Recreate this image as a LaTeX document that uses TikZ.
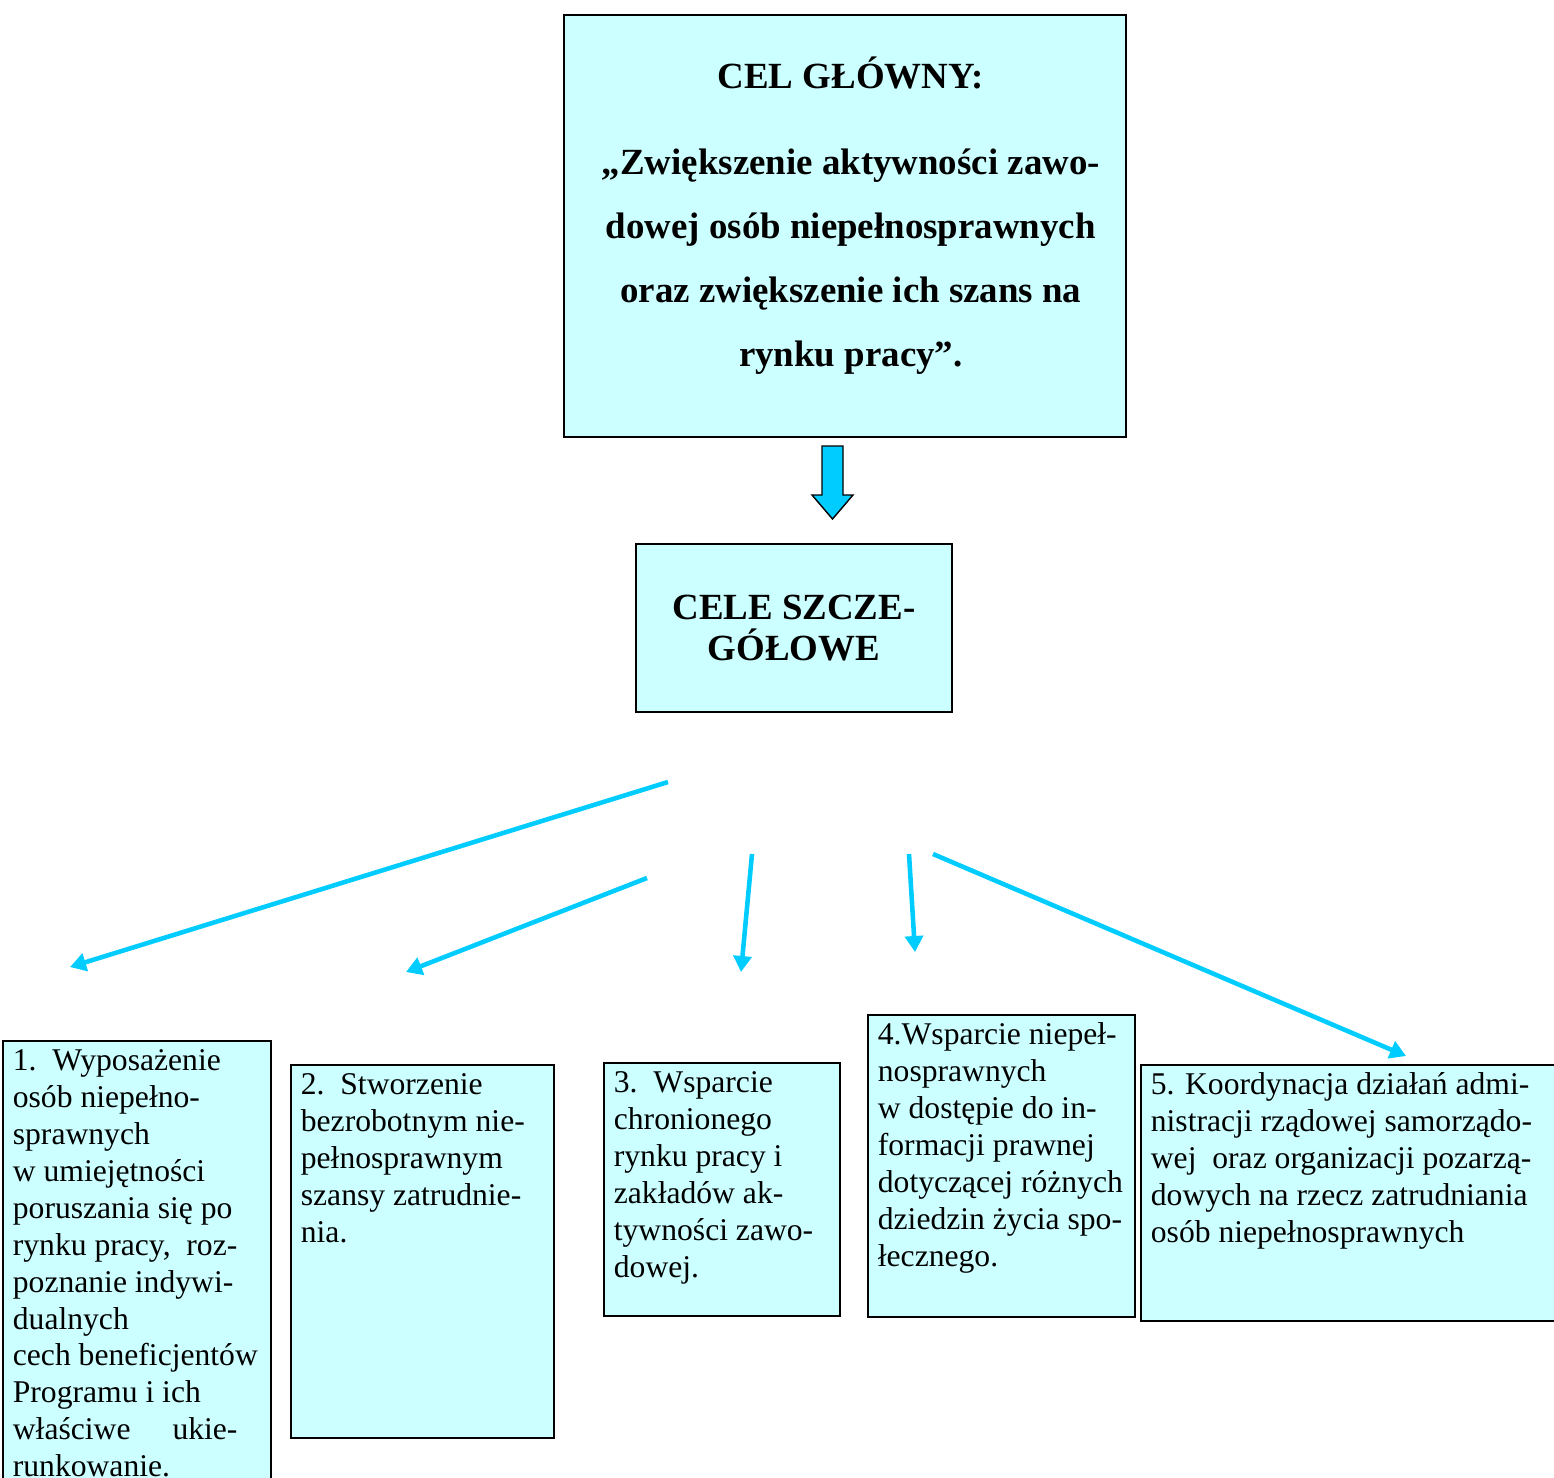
\documentclass[tikz,border=0pt]{standalone}
\usepackage{fontspec}
\setmainfont{Liberation Serif}
\usepackage{xcolor}
\usetikzlibrary{arrows.meta, calc, positioning}
\definecolor{boxcol}{RGB}{204,255,255}
\definecolor{arrowcol}{RGB}{0,204,255}
\newcommand{\boxtxt}[3]{\parbox[c][#2][t]{#1}{\raggedright\rule{0pt}{17pt}#3}}

\begin{document}
\begin{tikzpicture}[
  x=0.02cm, y=-0.02cm,
  every node/.style = {inner sep=0pt},
  headbox/.style = {rectangle, draw, line width=1pt, fill=boxcol, font=\fontsize{21pt}{36.4pt}\selectfont\bfseries},
  celbox/.style  = {rectangle, draw, line width=1pt, fill=boxcol, anchor=north west, inner xsep=0.2cm, inner ysep=0pt, font=\fontsize{18pt}{21pt}\selectfont},
  arr/.style     = {-{Triangle[length=0.32cm, width=0.36cm]}, line width=2.6pt, draw=arrowcol},
  blockarr/.style = {fill=arrowcol, draw=black, line width=0.8pt},
]
\useasboundingbox (0,0) rectangle (1554,1477);
\clip (0,0) rectangle (1554,1477);
% Main goal
\node[headbox, anchor=north west] (glowny) at (563,14) {\hspace*{0.24cm}\parbox[c][8.44cm][t]{11.0cm}{\centering\rule{0pt}{42pt}CEL GŁÓWNY:\\[12.5pt]
  „Zwiększenie aktywności zawo-\\ dowej osób niepełnosprawnych\\ oraz zwiększenie ich szans na\\ rynku pracy”.}};
\draw[blockarr] (822,446) -- (843,446) -- (843,495) -- (853,495) -- (832.5,519) -- (812,495) -- (822,495) -- cycle;
\node[headbox, minimum width=6.32cm, minimum height=3.36cm, align=center, font=\fontsize{21pt}{23.8pt}\selectfont\bfseries] (szczeg) at (794,628) {CELE SZCZE-\\GÓŁOWE};
% Detailed goals
\node[celbox] (cel1) at (2,1040) {\boxtxt{4.96cm}{9.2cm}{1.\ \ Wyposażenie\\ osób niepełno-\\ sprawnych\\ w umiejętności\\ poruszania się po\\ rynku pracy,\ \ roz-\\ poznanie indywi-\\ dualnych\\ cech beneficjentów\\ Programu i ich\\ właściwe\hspace{0.84cm}ukie-\\ runkowanie.}};
\node[celbox] (cel2) at (290,1064) {\boxtxt{4.86cm}{7.46cm}{2.\ \ Stworzenie\\ bezrobotnym nie-\\ pełnosprawnym\\ szansy zatrudnie-\\ nia.}};
\node[celbox] (cel3) at (603,1062) {\boxtxt{4.32cm}{5.06cm}{3.\ \ Wsparcie\\ chronionego\\ rynku pracy i\\ zakładów ak-\\ tywności zawo-\\ dowej.}};
\node[celbox] (cel4) at (867,1014) {\boxtxt{4.94cm}{6.04cm}{4.Wsparcie niepeł-\\ nosprawnych\\ w dostępie do in-\\ formacji prawnej\\ dotyczącej różnych\\ dziedzin życia spo-\\ łecznego.}};
\node[celbox] (cel5) at (1140,1064) {\boxtxt{8.2cm}{5.12cm}{5. Koordynacja działań admi-\\ nistracji rządowej samorządo-\\ wej\ \ oraz organizacji pozarzą-\\ dowych na rzecz zatrudniania\\ osób niepełnosprawnych}};
% Arrows
\coordinate (from1) at (668,782);  \coordinate (to1) at (70,967);
\coordinate (from2) at (647,878);  \coordinate (to2) at (406,972);
\coordinate (from3) at (752,854);  \coordinate (to3) at (741,972);
\coordinate (from4) at (909,854);  \coordinate (to4) at (915,952);
\coordinate (from5) at (933,854);  \coordinate (to5) at (1406,1056);
\draw[arr] (from1) -- (to1);
\draw[arr] (from2) -- (to2);
\draw[arr] (from3) -- (to3);
\draw[arr] (from4) -- (to4);
\draw[arr] (from5) -- (to5);
\end{tikzpicture}
\end{document}
